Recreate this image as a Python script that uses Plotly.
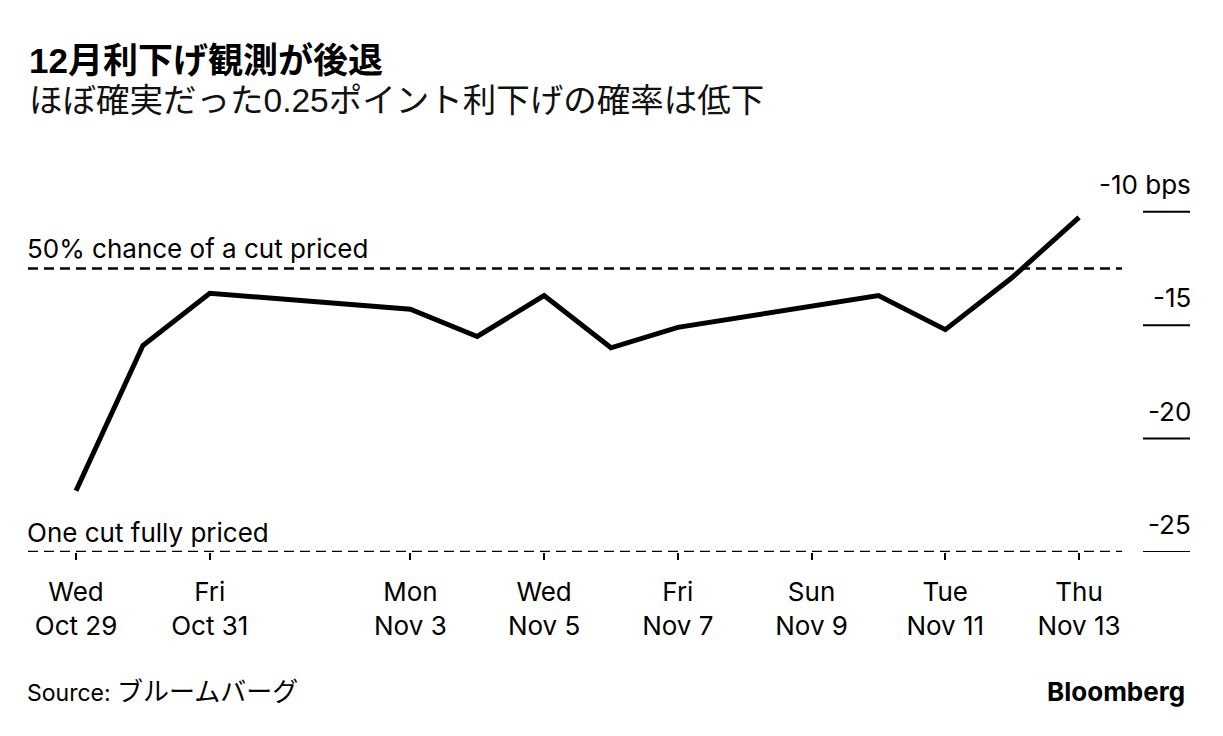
import plotly.graph_objects as go

# ---- data ----
dates = ["2025-10-29", "2025-10-30", "2025-10-31", "2025-11-03", "2025-11-04",
         "2025-11-05", "2025-11-06", "2025-11-07", "2025-11-10", "2025-11-11",
         "2025-11-12", "2025-11-13"]
values = [-22.3, -15.9, -13.6, -14.3, -15.5, -13.7, -16.0, -15.1, -13.7, -15.2, -12.9, -10.25]

tick_dates = ["2025-10-29", "2025-10-31", "2025-11-03", "2025-11-05",
              "2025-11-07", "2025-11-09", "2025-11-11", "2025-11-13"]
tick_text = ["Wed<br>Oct 29", "Fri<br>Oct 31", "Mon<br>Nov 3", "Wed<br>Nov 5",
             "Fri<br>Nov 7", "Sun<br>Nov 9", "Tue<br>Nov 11", "Thu<br>Nov 13"]

y_ticks = [-10, -15, -20, -25]
y_tick_text = ["-10 bps", "-15", "-20", "-25"]

ref_levels = [-12.5, -25]
ref_labels = ["50% chance of a cut priced", "One cut fully priced"]

title = "12月利下げ観測が後退"
subtitle = "ほぼ確実だった0.25ポイント利下げの確率は低下"
source_label = "Source: "
source_name = "ブルームバーグ"

# ---- layout geometry (page body has an 8px margin) ----
OFF = 8
W, H = 1223, 736
L, R = 28 - OFF, 1122 - OFF
TOP, BOT = 189 - OFF, 552.3 - OFF

def px(x):
    return (x - OFF - L) / (R - L)

def py(y):
    return (BOT - (y - OFF)) / (BOT - TOP)

FONT = "Inter, Liberation Sans, Noto Sans CJK JP, sans-serif"
HFONT = "Liberation Sans, Noto Sans CJK JP, sans-serif"

fig = go.Figure()
fig.add_trace(go.Scatter(x=dates, y=values, mode="lines",
                         line=dict(color="black", width=5, shape="linear"),
                         hoverinfo="skip", showlegend=False))

shapes = []
annotations = []
for lvl, lab in zip(ref_levels, ref_labels):
    shapes.append(dict(type="line", xref="paper", yref="y", x0=0, x1=1, y0=lvl, y1=lvl,
                       line=dict(color="black", width=2.5, dash="10px,6px")))
    annotations.append(dict(text=lab, xref="paper", yref="y", x=px(25), y=lvl,
                            xanchor="left", yanchor="bottom", yshift=2, showarrow=False,
                            font=dict(family=FONT, size=26, color="black")))

for v, t in zip(y_ticks, y_tick_text):
    shapes.append(dict(type="line", xref="paper", yref="y", x0=px(1143), x1=px(1190),
                       y0=v, y1=v, line=dict(color="black", width=2)))
    annotations.append(dict(text=t, xref="paper", yref="y", x=px(1193), y=v,
                            xanchor="right", yanchor="bottom", yshift=10, showarrow=False,
                            font=dict(family=FONT, size=26, color="black")))

annotations.append(dict(text="<b>" + title + "</b>", xref="paper", yref="paper",
                        x=px(27), y=py(60), xanchor="left", yanchor="middle",
                        showarrow=False, font=dict(family=HFONT, size=35, color="black")))
annotations.append(dict(text=subtitle, xref="paper", yref="paper",
                        x=px(27), y=py(100), xanchor="left", yanchor="middle",
                        showarrow=False, font=dict(family=HFONT, size=33.5, color="#111111")))
annotations.append(dict(text=source_label + '<span style="font-size:26px">' + source_name + "</span>",
                        xref="paper", yref="paper",
                        x=px(25), y=py(692), xanchor="left", yanchor="middle",
                        showarrow=False, font=dict(family=FONT, size=23, color="black")))
annotations.append(dict(text="<b>Bloomberg</b>", xref="paper", yref="paper",
                        x=px(1187), y=py(692), xanchor="right", yanchor="middle",
                        showarrow=False, font=dict(family=FONT, size=26, color="black")))

fig.update_layout(
    width=W, height=H,
    margin=dict(l=L, r=W - R, t=TOP, b=H - BOT),
    paper_bgcolor="white", plot_bgcolor="white",
    shapes=shapes, annotations=annotations,
    xaxis=dict(type="date", range=["2025-10-28 06:46", "2025-11-13 15:25"],
               tickvals=tick_dates, ticktext=tick_text, showgrid=False,
               zeroline=False, showline=False, ticks="outside", ticklen=7,
               tickwidth=1.5, tickcolor="black", ticklabelstandoff=10,
               tickfont=dict(family=FONT, size=26, color="black")),
    yaxis=dict(range=[-25, -9], showgrid=False, zeroline=False, showline=False,
               showticklabels=False, ticks=""),
)

fig.write_html("out.html")
